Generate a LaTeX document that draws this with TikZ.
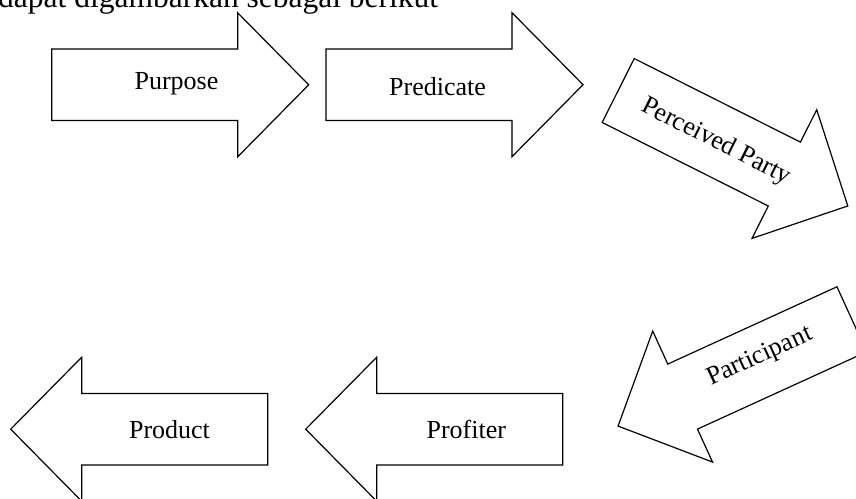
\documentclass[tikz,border=0pt]{standalone}
\usepackage{fontspec}
\setmainfont{Liberation Serif}
\newcommand\blockarrow[4]{%
  \begin{scope}[shift={(#1,#2)}, rotate=#3]
    \draw[blk] (0,-35.75) -- (186,-35.75) -- (186,-72) -- (257,0) -- (186,72)
      -- (186,35.75) -- (0,35.75) -- cycle;
    \coordinate (#4) at (0,0);
  \end{scope}}
\begin{document}
\begin{tikzpicture}[x=1pt,y=-1pt,
  blk/.style={draw=black, line width=1.2pt, fill=white, line join=miter},
  lbl/.style={font=\fontsize{26}{30}\selectfont, inner sep=0pt},
  ttl/.style={font=\fontsize{31.5}{36}\selectfont, inner sep=0pt, anchor=base west}]
\useasboundingbox (0,0) rectangle (856,498);
\node[ttl] (title) at (-2,7) {dapat digambarkan sebagai berikut};
\blockarrow{51.7}{84.8}{0}{a1}
\blockarrow{326}{84.7}{0}{a2}
\blockarrow{618.2}{90.5}{-26.7}{a3}
\blockarrow{851.8}{319.3}{204.55}{a4}
\blockarrow{562.7}{429.2}{180}{a5}
\blockarrow{267.7}{429.2}{180}{a6}
\node[lbl, anchor=base] (purpose) at (176.5,89) {Purpose};
\node[lbl, anchor=base] (predicate) at (437.5,95) {Predicate};
\node[lbl, rotate=-26.7] (perceived) at (716,142) {Perceived Party};
\node[lbl, rotate=24.5] (participant) at (760,357) {Participant};
\node[lbl, anchor=base] (profiter) at (466.3,438.3) {Profiter};
\node[lbl, anchor=base] (product) at (169.5,438.3) {Product};
\end{tikzpicture}
\end{document}
